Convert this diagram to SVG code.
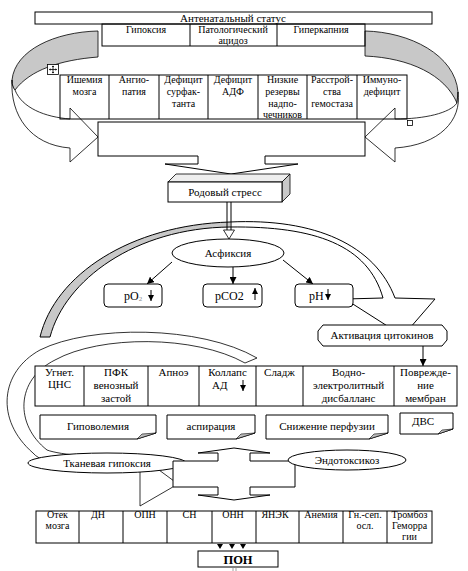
<svg xmlns="http://www.w3.org/2000/svg" width="468" height="571" viewBox="0 0 468 571" font-family="'Liberation Serif', 'Times New Roman', serif">
<defs>
<style>
text{font-size:11px;fill:#000;text-anchor:middle}
.s{font-size:10px}
.p{font-size:12px}
.st{text-anchor:start}
.b{font-weight:bold;font-size:12.5px}
.ln{fill:none;stroke:#000;stroke-width:1}
.bx{fill:#fff;stroke:#000;stroke-width:1}
.nf{fill:none;stroke:#000;stroke-width:1}
.gr{fill:#c8c8c8;stroke:#000;stroke-width:0.8}
.wa{fill:#fff;stroke:#000;stroke-width:0.8}
.fold{fill:#bdbdbd;stroke:#000;stroke-width:0.6}
</style>
<marker id="ah" markerWidth="7" markerHeight="7" refX="7" refY="3.5" orient="auto" markerUnits="userSpaceOnUse"><path d="M0,0 L7,3.5 L0,7 Z" fill="#000"/></marker>
<marker id="ahs" markerWidth="6" markerHeight="6" refX="6" refY="3" orient="auto" markerUnits="userSpaceOnUse"><path d="M0,0 L6,3 L0,6 Z" fill="#000"/></marker>
</defs>
<rect width="468" height="571" fill="#fff"/>

<!-- top curved arrows -->
<g id="curl-left">
<path class="gr" d="M98,31 C55,32 15,50 12,80 C12,85 13,88 15,90 C30,70 60,60 98,57 Z"/>
<path class="wa" d="M12,80 C10,115 30,145 70,148 L70,162 L98,137 L70,108 L70,119 C45,117 22,108 15,90 C13,88 12,85 12,80 Z"/>
</g>
<g id="curl-right">
<path class="gr" d="M365,31 C410,32 455,55 458,92 L457,103 C445,75 410,58 365,56 Z"/>
<path class="wa" d="M458,92 C462,120 440,145 395,148 L395,162 L365,137 L395,108 L395,119 C425,119 450,113 457,103 Z"/>
</g>

<g id="antenatal">
<rect class="bx" x="35" y="12" width="397" height="12"/>
<text x="233" y="21.5">Антенатальный статус</text>
</g>
<g id="row1">
<rect class="nf" x="102" y="24" width="263" height="22"/>
<line class="ln" x1="190" y1="24" x2="190" y2="46"/>
<line class="ln" x1="277" y1="24" x2="277" y2="46"/>
<text class="s" x="146" y="33">Гипоксия</text>
<text class="s" x="233" y="33">Патологический</text>
<text class="s" x="233" y="44">ацидоз</text>
<text class="s" x="321" y="33">Гиперкапния</text>
</g>
<g id="row2">
<rect class="nf" x="60" y="75" width="347" height="44"/>
<line class="ln" x1="109" y1="75" x2="109" y2="119"/>
<line class="ln" x1="159" y1="75" x2="159" y2="119"/>
<line class="ln" x1="208" y1="75" x2="208" y2="119"/>
<line class="ln" x1="258" y1="75" x2="258" y2="119"/>
<line class="ln" x1="307" y1="75" x2="307" y2="119"/>
<line class="ln" x1="357" y1="75" x2="357" y2="119"/>
<text class="s" x="84.5" y="83">Ишемия</text><text class="s" x="84.5" y="95">мозга</text>
<text class="s" x="134" y="83">Ангио-</text><text class="s" x="134" y="95">патия</text>
<text class="s" x="183.5" y="83">Дефицит</text><text class="s" x="183.5" y="95">сурфак-</text><text class="s" x="183.5" y="107">танта</text>
<text class="s" x="233" y="83">Дефицит</text><text class="s" x="233" y="95">АДФ</text>
<text class="s" x="282.5" y="83">Низкие</text><text class="s" x="282.5" y="95">резервы</text><text class="s" x="282.5" y="107">надпо-</text><text class="s" x="282.5" y="118">чечников</text>
<text class="s" x="332" y="83">Расстрой-</text><text class="s" x="332" y="95">ства</text><text class="s" x="332" y="107">гемостаза</text>
<text class="s" x="382" y="83">Иммуно-</text><text class="s" x="382" y="95">дефицит</text>
</g>
<g id="handles">
<rect x="47.5" y="64.5" width="11" height="10" fill="#fff" stroke="#000" stroke-width="0.8"/>
<path d="M53,66 V73 M49.5,69.5 H56.5" stroke="#000" stroke-width="0.8" fill="none"/>
<path d="M53,65.5 L51.8,67 H54.2 Z M53,73.5 L51.8,72 H54.2 Z M49,69.5 L50.5,68.3 V70.7 Z M57,69.5 L55.5,68.3 V70.7 Z" fill="#000"/>
<rect x="407.5" y="120.5" width="5" height="5" fill="#fff" stroke="#000" stroke-width="0.8"/>
</g>

<g id="summary-box">
<rect class="bx" x="98" y="122" width="267" height="34"/>
</g>
<g id="down-arrow">
<polygon points="198,155 265,155 265,164 298,164 231,174 165,164 198,164" fill="#fff"/>
<path class="ln" d="M198,156 V164 H165 L231,174 L298,164 H265 V156"/>
</g>

<g id="rodovoy-stress">
<polygon points="168,182 176,174 290,174 282,182" fill="#eee" stroke="#000" stroke-width="0.8"/>
<polygon points="282,182 290,174 290,194 282,202" fill="#c8c8c8" stroke="#000" stroke-width="0.8"/>
<rect class="bx" x="168" y="182" width="114" height="20"/>
<text x="225" y="196">Родовый стресс</text>
</g>

<!-- big arc arrow -->
<g id="arc-arrow">
<path d="M40,337 C55,275 130,225 230,222 L230,227 C135,228 65,280 50,337 Z" fill="#c8c8c8"/>
<path d="M230,222 C315,218 375,245 395,298 L435,299 L403,336 L345,299 L383,298 C368,245 315,226 230,227 Z" fill="#fff"/>
<path class="ln" stroke-width="0.8" d="M50,337 L40,337 C55,275 130,225 230,222 C315,218 375,245 395,298 L435,299 L403,336 L345,299 L383,298 C368,245 315,226 230,227 C135,228 65,280 50,337"/>
</g>

<g id="connectors">
<path class="ln" d="M227,202 V230 M231,202 V230"/>
<polygon points="223.5,230 234.5,230 229,239" fill="#fff" stroke="#000" stroke-width="0.8"/>
<line class="ln" x1="172" y1="262" x2="147" y2="284" marker-end="url(#ah)"/>
<line class="ln" x1="233" y1="267" x2="233" y2="284" marker-end="url(#ah)"/>
<line class="ln" x1="283" y1="260" x2="313" y2="284" marker-end="url(#ah)"/>
<line class="ln" x1="423" y1="346" x2="423" y2="366" marker-end="url(#ah)"/>
</g>

<g id="asfiksia">
<ellipse class="bx" cx="228" cy="253" rx="56" ry="14"/>
<text x="228" y="257">Асфиксия</text>
</g>
<g id="po2">
<rect class="bx" x="104" y="284" width="58" height="23" rx="4"/>
<text class="p st" x="124" y="300">pO<tspan font-size="7" fill="#888" dy="1">2</tspan></text>
<line class="ln" x1="151" y1="290" x2="151" y2="301" stroke-width="1.3" marker-end="url(#ahs)"/>
</g>
<g id="pco2">
<rect class="bx" x="203" y="284" width="59" height="23" rx="4"/>
<text class="p st" x="215" y="300">pCO2</text>
<line class="ln" x1="255" y1="300" x2="255" y2="288" stroke-width="1.3" marker-end="url(#ahs)"/>
</g>
<g id="ph">
<rect class="bx" x="295" y="284" width="58" height="23" rx="4"/>
<text class="p st" x="309" y="300">pH</text>
<line class="ln" x1="328" y1="289" x2="328" y2="300" stroke-width="1.3" marker-end="url(#ahs)"/>
</g>
<g id="cytokines">
<path class="bx" d="M323,325 H442 L447,331 V340 L442,346 H323 L318,340 V331 Z"/>
<text x="382" y="339">Активация цитокинов</text>
</g>

<!-- big white curved arrow -->
<g id="curl-bottom">
<path class="wa" d="M257,358 C200,325 90,325 40,350 C0,372 -5,420 33,453 C45,468 100,470 140,470 L140,506 L178,484 L140,456 L140,458 C100,458 60,455 47,450 C15,425 15,380 55,360 C100,335 195,335 245,363 Z"/>
</g>

<g id="row3">
<rect class="bx" x="35" y="366" width="422" height="40"/>
<line class="ln" x1="84" y1="366" x2="84" y2="406"/>
<line class="ln" x1="148" y1="366" x2="148" y2="406"/>
<line class="ln" x1="199" y1="366" x2="199" y2="406"/>
<line class="ln" x1="256" y1="366" x2="256" y2="406"/>
<line class="ln" x1="303" y1="366" x2="303" y2="406"/>
<line class="ln" x1="394" y1="366" x2="394" y2="406"/>
<text x="59.5" y="376">Угнет.</text><text x="59.5" y="388">ЦНС</text>
<text x="116" y="376">ПФК</text><text x="116" y="389">венозный</text><text x="116" y="402">застой</text>
<text x="173.5" y="376">Апноэ</text>
<text x="227.5" y="376">Коллапс</text><text class="st" x="212" y="389">АД</text>
<line class="ln" x1="243" y1="380" x2="243" y2="391" stroke-width="1.3" marker-end="url(#ahs)"/>
<text x="279.5" y="376">Сладж</text>
<text x="348.5" y="376">Водно-</text><text x="348.5" y="389">электролитный</text><text x="348.5" y="402">дисбалланс</text>
<text x="425.5" y="376">Поврежде-</text><text x="425.5" y="389">ние</text><text x="425.5" y="402">мембран</text>
</g>

<g id="hypovolemia">
<path class="bx" d="M40,415 H156 V433 L137,439 H40 Z"/>
<path class="fold" d="M156,433 L137,439 L142,434 Z"/>
<text x="98" y="430">Гиповолемия</text>
</g>
<g id="aspiration">
<path class="bx" d="M167,415 H255 V433 L236,439 H167 Z"/>
<path class="fold" d="M255,433 L236,439 L241,434 Z"/>
<text x="211" y="430">аспирация</text>
</g>
<g id="perfusion">
<path class="bx" d="M266,415 H388 V433 L369,439 H266 Z"/>
<path class="fold" d="M388,433 L369,439 L374,434 Z"/>
<text x="327" y="430">Снижение перфузии</text>
</g>
<g id="dvs">
<path class="bx" d="M400,413 H453 V429 L438,434 H400 Z"/>
<path class="fold" d="M453,429 L438,434 L442,430 Z"/>
<text x="423" y="425">ДВС</text>
</g>

<g id="tissue-hypoxia">
<ellipse class="bx" cx="107" cy="463" rx="79" ry="10"/>
<text x="107" y="467">Тканевая гипоксия</text>
</g>
<g id="cross">
<path class="bx" d="M173,461 H218 V453 H198 L234,448 L270,453 H250 V461 H295 V487 H250 V495 H270 L234,500 L198,495 H218 V487 H173 Z"/>
</g>
<g id="endotox">
<ellipse class="bx" cx="347" cy="460" rx="59" ry="10"/>
<text x="347" y="464">Эндотоксикоз</text>
</g>

<g id="row4">
<rect class="bx" x="36" y="511" width="396" height="32"/>
<line class="ln" x1="79" y1="511" x2="79" y2="543"/>
<line class="ln" x1="123" y1="511" x2="123" y2="543"/>
<line class="ln" x1="167" y1="511" x2="167" y2="543"/>
<line class="ln" x1="212" y1="511" x2="212" y2="543"/>
<line class="ln" x1="256" y1="511" x2="256" y2="543"/>
<line class="ln" x1="299" y1="511" x2="299" y2="543"/>
<line class="ln" x1="343" y1="511" x2="343" y2="543"/>
<line class="ln" x1="387" y1="511" x2="387" y2="543"/>
<text class="s" x="57.5" y="518">Отек</text><text class="s" x="57.5" y="529">мозга</text>
<text class="s" x="98" y="518">ДН</text>
<text class="s" x="145" y="518">ОПН</text>
<text class="s" x="189.5" y="518">СН</text>
<text class="s" x="233" y="518">ОНН</text>
<text class="s" x="275" y="518">ЯНЭК</text>
<text class="s" x="321" y="518">Анемия</text>
<text class="s" x="365" y="518">Гн.-сеп.</text><text class="s" x="365" y="529">осл.</text>
<text class="s" x="409.5" y="518">Тромбоз</text><text class="s" x="409.5" y="529">Геморра</text><text class="s" x="409.5" y="540">гии</text>
</g>
<g id="pon-arrows">
<path d="M217,544 H223 L220,549 Z M229,544 H235 L232,549 Z M240,544 H246 L243,549 Z" fill="#000"/>
</g>
<g id="pon">
<rect class="bx" x="198" y="551" width="80" height="16"/>
<text class="b" x="238" y="564">ПОН</text>
<path d="M233,567 V571 M236,567 V571" stroke="#888" stroke-width="0.8" fill="none"/>
</g>
</svg>
